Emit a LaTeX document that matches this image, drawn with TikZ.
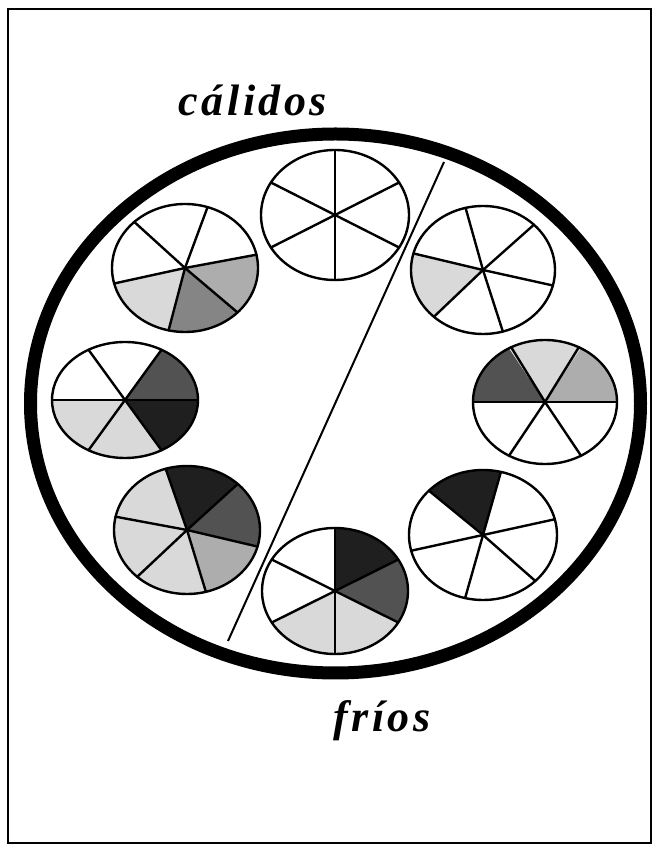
\documentclass[tikz,border=0pt]{standalone}
\usepackage{fontspec}
\newfontfamily\labelfont[LetterSpace=8]{Liberation Serif}
\newcommand\wheelsect[6]{%
  \fill[#6] (#1) -- ++(#4:#2 and #3) arc[start angle=#4, end angle=#5, x radius=#2, y radius=#3] -- cycle;}
\newcommand\wheelspokes[4]{%
  \foreach \aa in {#4} {\draw[spoke] (#1) -- ++(\aa:#2 and #3);}
  \draw[rim] (#1) ellipse[x radius=#2, y radius=#3];}
\begin{document}
\begin{tikzpicture}[x=1pt,y=1pt,
  spoke/.style={line width=2.4pt, line cap=round},
  rim/.style={line width=2.4pt},
  light/.style={black!15},
  medium/.style={black!32},
  darker/.style={black!48},
  dark/.style={black!68},
  vdark/.style={black!88},
  lbl/.style={font=\labelfont\bfseries\itshape\fontsize{44}{44}\selectfont, anchor=base, inner sep=0pt}]
\useasboundingbox (0,0) rectangle (659,852);
% frame
\draw[line width=1.5pt] (8,9) rectangle (651,843);
% centres
\coordinate (big) at (335.5,448.5);
\coordinate (w1) at (335,637);
\coordinate (w2) at (185,584);
\coordinate (w3) at (483,582);
\coordinate (w4) at (125,452);
\coordinate (w5) at (545,450);
\coordinate (w6) at (187,322);
\coordinate (w7) at (483,317);
\coordinate (w8) at (335,261);
\coordinate (dtop) at (444,690);
\coordinate (dbot) at (228,211);
% dividing line
\draw[line width=2pt] (dbot) -- (dtop);
% big ring
\draw[line width=13pt] (big) ellipse[x radius=305, y radius=269.5];
% wheel 1 (top)
\wheelspokes{w1}{74}{65}{30,90,150,210,270,330}
% wheel 2 (upper left)
\wheelsect{w2}{73}{64}{316}{372}{medium}
\wheelsect{w2}{73}{64}{257}{316}{darker}
\wheelsect{w2}{73}{64}{194}{257}{light}
\wheelspokes{w2}{73}{64}{12,72,134,194,257,316}
% wheel 3 (upper right)
\wheelsect{w3}{72}{64}{165}{227}{light}
\wheelspokes{w3}{72}{64}{45,104,165,227,286,346}
% wheel 4 (left middle)
\wheelsect{w4}{73}{58}{0}{60}{dark}
\wheelsect{w4}{73}{58}{300}{360}{vdark}
\wheelsect{w4}{73}{58}{240}{300}{light}
\wheelsect{w4}{73}{58}{180}{240}{light}
\wheelspokes{w4}{73}{58}{0,60,120,180,240,300}
% wheel 5 (right middle)
\wheelsect{w5}{72}{62}{120}{180}{dark}
\wheelsect{w5}{72}{62}{60}{120}{light}
\wheelsect{w5}{72}{62}{0}{60}{medium}
\wheelspokes{w5}{72}{62}{0,62,118,180,240,300}
% wheel 6 (lower left)
\wheelsect{w6}{73}{64}{46}{107}{vdark}
\wheelsect{w6}{73}{64}{-15}{46}{dark}
\wheelsect{w6}{73}{64}{285}{345}{medium}
\wheelsect{w6}{73}{64}{227}{285}{light}
\wheelsect{w6}{73}{64}{168}{227}{light}
\wheelsect{w6}{73}{64}{107}{168}{light}
\wheelspokes{w6}{73}{64}{46,107,168,227,285,345}
% wheel 7 (lower right)
\wheelsect{w7}{74}{65}{76}{137}{vdark}
\wheelspokes{w7}{74}{65}{14,76,137,194,256,315}
% wheel 8 (bottom)
\wheelsect{w8}{73}{63}{30}{90}{vdark}
\wheelsect{w8}{73}{63}{-30}{30}{dark}
\wheelsect{w8}{73}{63}{270}{330}{light}
\wheelsect{w8}{73}{63}{210}{270}{light}
\wheelspokes{w8}{73}{63}{30,90,150,210,270,330}
% labels
\node[lbl] (calidos) at (253,736) {cálidos};
\node[lbl] (frios) at (382,120) {fríos};
\end{tikzpicture}
\end{document}
